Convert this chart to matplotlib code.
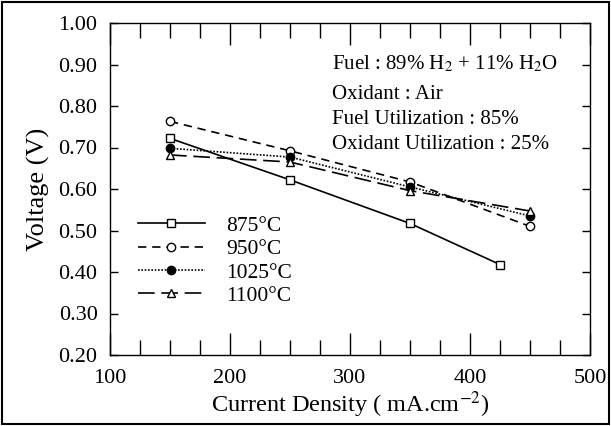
import matplotlib
matplotlib.use("Agg")
import matplotlib.pyplot as plt
from matplotlib.ticker import MultipleLocator, FormatStrFormatter
from matplotlib.patches import Rectangle

plt.rcParams['font.family'] = ['Liberation Serif', 'DejaVu Serif']
plt.rcParams['mathtext.fontset'] = 'stix'

# data
x_875 = [150, 250, 350, 425]
v_875 = [0.722, 0.622, 0.517, 0.418]
x_950 = [150, 250, 350, 450]
v_950 = [0.763, 0.692, 0.617, 0.510]
x_1025 = [150, 250, 350, 450]
v_1025 = [0.698, 0.677, 0.605, 0.535]
x_1100 = [150, 250, 350, 450]
v_1100 = [0.682, 0.665, 0.596, 0.547]

labels = ["875°C", "950°C", "1025°C", "1100°C"]
notes = ["Fuel : 89% H$_2$ + 11% H$_2$O", "Oxidant : Air",
         "Fuel Utilization : 85%", "Oxidant Utilization : 25%"]

fig = plt.figure(figsize=(6.11, 4.26), dpi=100)
ax = fig.add_axes([110/611, 1 - 355/426, 480/611, 332/426])

ax.plot(x_875, v_875, "k-", marker="s", mfc="white", mec="black", ms=6, lw=1.2, label=labels[0])
ax.plot(x_950, v_950, "k", ls=(0, (5, 3.5)), marker="o", mfc="white", mec="black", ms=6, lw=1.2, label=labels[1])
ax.plot(x_1025, v_1025, "k", ls=(0, (1, 1)), marker="o", mfc="black", mec="black", ms=6, lw=1.2, label=labels[2])
ax.plot(x_1100, v_1100, "k", ls=(0, (10, 4)), marker="^", mfc="white", mec="black", ms=6, lw=1.2, label=labels[3])

ax.set_xlim(100, 500)
ax.set_ylim(0.2, 1.0)
ax.xaxis.set_major_locator(MultipleLocator(100))
ax.xaxis.set_minor_locator(MultipleLocator(25))
ax.yaxis.set_major_locator(MultipleLocator(0.1))
ax.yaxis.set_major_formatter(FormatStrFormatter("%.2f"))
ax.tick_params(axis="x", which="major", direction="in", length=16, width=1, top=True, labelsize=16, pad=10)
ax.tick_params(axis="x", which="minor", direction="in", length=11, width=1, top=True)
ax.tick_params(axis="y", which="major", direction="in", length=6, width=1, right=True, labelsize=16, pad=9)
for s in ax.spines.values():
    s.set_linewidth(1)

ax.set_xlabel("Current Density ( mA.cm$^{-2}$)", fontsize=17.5, labelpad=1)
ax.set_ylabel("Voltage (V)", fontsize=19, labelpad=6)

ys = [0.861, 0.771, 0.696, 0.620]
for t, yy in zip(notes, ys):
    ax.text(0.4625, yy, t, transform=ax.transAxes, fontsize=15, va="baseline", ha="left")

ax.legend(loc="upper left", bbox_to_anchor=(0.04, 0.445), frameon=False, fontsize=15.5,
          handlelength=3.1, handletextpad=1.0, labelspacing=0.15, borderaxespad=0)

fig.patches.append(Rectangle((0.003, 0.004), 0.994, 0.992, transform=fig.transFigure,
                             fill=False, ec="black", lw=1.5))

fig.savefig("out.png", dpi=100)
